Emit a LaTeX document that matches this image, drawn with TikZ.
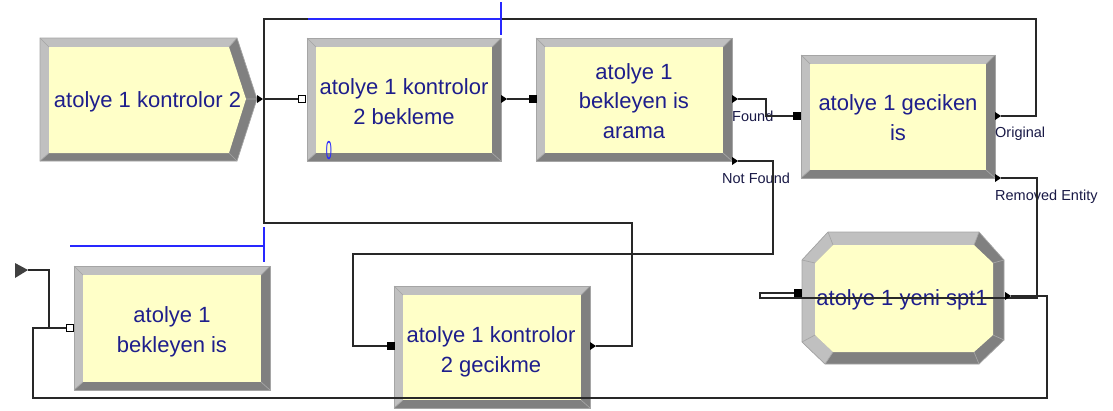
\documentclass[tikz,border=0pt]{standalone}
\usepackage{fontspec}
\setmainfont{Liberation Sans}
\usepackage{graphicx}
\definecolor{bevlight}{RGB}{192,192,192}
\definecolor{bevdark}{RGB}{128,128,128}
\definecolor{bevline}{RGB}{165,165,165}
\definecolor{modfill}{RGB}{255,255,200}
\definecolor{modtext}{RGB}{30,30,140}
\definecolor{lbltext}{RGB}{25,25,70}
\definecolor{connc}{RGB}{40,40,40}
\definecolor{animblue}{RGB}{40,40,255}
\newcommand{\rectmod}[8]{%
  \fill[bevdark] (#1,#2) rectangle (#3,#4);
  \fill[bevlight] (#1,#4) -- (#1,#2) -- (#3,#2) -- (#7,#6) -- (#5,#6) -- (#5,#8) -- cycle;
  \fill[modfill] (#5,#6) rectangle (#7,#8);
  \draw[bevedge] (#1,#2) -- (#5,#6) (#3,#2) -- (#7,#6) (#3,#4) -- (#7,#8) (#1,#4) -- (#5,#8);
  \draw[bevedge] (#1,#2) rectangle (#3,#4);
}
\newcommand{\exitarrow}[1]{\fill[black] ($(#1)+(-6,-4)$) -- (#1) -- ($(#1)+(-6,4)$) -- cycle;}
\usetikzlibrary{calc}
\tikzset{
  bevedge/.style={draw=bevline, line width=0.7pt},
  modlabel/.style={text=modtext, font=\fontsize{22}{29.5}\selectfont, align=center, inner sep=0pt, anchor=base},
  portlabel/.style={text=lbltext, font=\fontsize{14.5}{16}\selectfont, inner sep=0pt, anchor=base west},
  conn/.style={draw=connc, line width=1.2pt},
  anim/.style={draw=animblue, line width=1.2pt},
  fullsq/.style={fill=black, draw=black, line width=0.5pt, minimum size=7pt, inner sep=0pt, outer sep=0pt, rectangle},
  hollowsq/.style={fill=white, draw=black, line width=0.8pt, minimum size=7pt, inner sep=0pt, outer sep=0pt, rectangle},
}
\begin{document}
\begin{tikzpicture}[x=1pt, y=-1pt]
\useasboundingbox (0,0) rectangle (1113,410);
\fill[white] (0,0) rectangle (1113,410);

% Create module (pentagon)
\fill[bevdark] (40,38) -- (237,38) -- (257,99) -- (237,161) -- (40,161) -- cycle;
\fill[bevlight] (40,161) -- (40,38) -- (237,38) -- (229,47) -- (49,47) -- (49,153) -- cycle;
\fill[modfill] (49,47) -- (229,47) -- (246,99) -- (229,153) -- (49,153) -- cycle;
\draw[bevedge] (40,38) -- (49,47) (237,38) -- (229,47) (257,99) -- (246,99) (237,161) -- (229,153) (40,161) -- (49,153);
\draw[bevedge] (40,38) -- (237,38) -- (257,99) -- (237,161) -- (40,161) -- cycle;

% Rectangular modules
\rectmod{307}{38}{501}{161}{316}{47}{492}{153}
\rectmod{536}{38}{732}{161}{545}{47}{723}{153}
\rectmod{801}{55}{995}{178}{810}{64}{986}{170}
\rectmod{74}{266}{270}{390}{83}{275}{261}{382}
\rectmod{394}{286}{590}{408}{403}{295}{581}{400}

% Octagon module
\fill[bevdark] (828,232) -- (979,232) -- (1004,260) -- (1004,340) -- (979,364) -- (825,364) -- (802,342) -- (802,260) -- cycle;
\fill[bevlight] (825,364) -- (802,342) -- (802,260) -- (828,232) -- (979,232) -- (974,245) -- (833,245) -- (815,263) -- (815,335) -- (833,352) -- cycle;
\fill[modfill] (833,245) -- (974,245) -- (993,263) -- (993,335) -- (974,352) -- (833,352) -- (815,335) -- (815,263) -- cycle;
\draw[bevedge] (828,232) -- (833,245) (979,232) -- (974,245) (1004,260) -- (993,263) (1004,340) -- (993,335)
  (979,364) -- (974,352) (825,364) -- (833,352) (802,342) -- (815,335) (802,260) -- (815,263);
\draw[bevedge] (828,232) -- (979,232) -- (1004,260) -- (1004,340) -- (979,364) -- (825,364) -- (802,342) -- (802,260) -- cycle;

% Module texts (anchor = baseline of last line)
\node[modlabel] (create) at (147.5,107) {atolye 1 kontrolor 2};
\node[modlabel] (hold) at (404,124) {atolye 1 kontrolor\\2 bekleme};
\node[modlabel] (search) at (634,138) {atolye 1\\bekleyen is\\arama};
\node[modlabel] (separate) at (898,140) {atolye 1 geciken\\is};
\node[modlabel] (wait) at (172,352) {atolye 1\\bekleyen is};
\node[modlabel] (delay) at (491,372) {atolye 1 kontrolor\\2 gecikme};
\node[modlabel] (spt) at (902,305) {atolye 1 yeni spt1};

% counter
\node[text=animblue, inner sep=0pt, anchor=base] (count) at (329,159) {\scalebox{0.42}[1]{\fontsize{26}{26}\selectfont 0}};

% port labels
\node[portlabel] (lfound) at (732,121) {Found};
\node[portlabel] (lnotfound) at (722,183) {Not Found};
\node[portlabel] (lorig) at (995,137) {Original};
\node[portlabel] (lremoved) at (995,200) {Removed Entity};

% ports
\coordinate (createOut) at (263,99);
\coordinate (holdIn) at (302,99);
\coordinate (holdOut) at (507,99);
\coordinate (searchIn) at (533,99);
\coordinate (searchFound) at (738,99);
\coordinate (searchNF) at (738,161);
\coordinate (sepIn) at (797,116);
\coordinate (sepOrig) at (1001,116);
\coordinate (sepRem) at (1001,178);
\coordinate (sptIn) at (798,293);
\coordinate (sptOut) at (1011,296);
\coordinate (waitIn) at (70,328);
\coordinate (delayIn) at (391,346);
\coordinate (delayOut) at (596,346);
\coordinate (src) at (28,270);
\coordinate (join) at (264,99);

% connectors
\draw[conn] (createOut) -- (holdIn);
\draw[conn] (holdOut) -- (searchIn);
\draw[conn] (searchFound) -- (766,99) -- (766,116) -- (sepIn);
\draw[conn] (searchNF) -- (773,161) -- (773,254) -- (353,254) -- (353,346) -- (delayIn);
\draw[conn] (sepOrig) -- (1036,116) -- (1036,19) -- (264,19) -- (join);
\draw[conn] (delayOut) -- (632,346) -- (632,223) -- (264,223) -- (join);
\draw[conn] (sepRem) -- (1037,178) -- (1037,298) -- (760,298) -- (760,293) -- (sptIn);
\draw[conn] (sptOut) -- (1047,296) -- (1047,398) -- (33,398) -- (33,328) -- (waitIn);
\draw[conn] (src) -- (49,270) -- (49,328);

% animation (blue) lines
\draw[anim] (308,19) -- (501,19) (501,2) -- (501,35);
\draw[anim] (70,246) -- (264,246) (264,227) -- (264,262);

% source triangle
\fill[black!75] (15,263) -- (28,270) -- (15,278) -- cycle;

% entry squares
\node[hollowsq] at (holdIn) {};
\node[fullsq] at (searchIn) {};
\node[fullsq] at (sepIn) {};
\node[fullsq] at (sptIn) {};
\node[fullsq] at (delayIn) {};
\node[hollowsq] at (waitIn) {};

% exit arrows
\exitarrow{createOut}
\exitarrow{holdOut}
\exitarrow{searchFound}
\exitarrow{searchNF}
\exitarrow{sepOrig}
\exitarrow{sepRem}
\exitarrow{sptOut}
\exitarrow{delayOut}
\end{tikzpicture}
\end{document}
